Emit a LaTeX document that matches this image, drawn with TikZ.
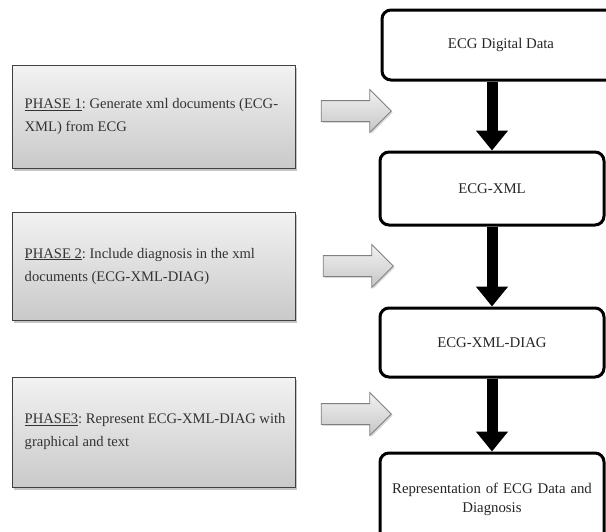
\documentclass[tikz,border=0pt]{standalone}
\usepackage{fontspec}
\setmainfont{Liberation Serif}
\usetikzlibrary{shapes.arrows,shadows,arrows.meta}
\frenchspacing
\begin{document}
\begin{tikzpicture}[x=1pt,y=-1pt,
  phasebox/.style={draw=black!75, line width=1pt, top color=gray!10, bottom color=gray!42,
    drop shadow={shadow xshift=2pt,shadow yshift=-2.5pt,fill=black!45},
    minimum width=283pt, inner sep=0pt},
  phasetext/.style={anchor=west, align=left, inner sep=0pt,
    font=\fontsize{14.6}{23}\selectfont, text=black!80},
  stagebox/.style={draw=black, line width=3pt, rounded corners=9pt, fill=white,
    minimum width=224pt, align=center, font=\fontsize{14.8}{19}\selectfont, text=black!85},
  grayarrow/.style={single arrow, draw=black!50, line width=0.8pt, top color=gray!10, bottom color=gray!45,
    minimum height=70pt, inner xsep=0pt, inner ysep=10pt, single arrow head extend=11pt,
    drop shadow={shadow xshift=1.5pt,shadow yshift=-1.5pt,fill=black!30}},
  flowarrow/.style={line width=11pt, draw=black, -{Triangle[width=31pt,length=20pt]}}
]
\clip (0,0) rectangle (606,531);
\useasboundingbox (0,0) rectangle (606,531);
\fill[white] (0,0) rectangle (606,531);

% phase boxes
\node[phasebox, minimum height=103pt] (p1) at (153.5,116.5) {};
\node[phasetext] (t1) at ([xshift=13pt]p1.west)
  {\underline{PHASE 1}: Generate xml documents (ECG-\\XML) from ECG};
\node[phasebox, minimum height=108pt] (p2) at (153.5,266) {};
\node[phasetext] (t2) at ([xshift=13pt]p2.west)
  {\underline{PHASE 2}: Include diagnosis in the xml\\documents (ECG-XML-DIAG)};
\node[phasebox, minimum height=110pt] (p3) at (153.5,432) {};
\node[phasetext] (t3) at ([xshift=13pt]p3.west)
  {\underline{PHASE3}: Represent ECG-XML-DIAG with\\graphical and text};

% gray arrows
\node[grayarrow] (g1) at (351,111) {};
\node[grayarrow] (g2) at (353,266) {};
\node[grayarrow] (g3) at (351,414) {};

% stage boxes
\node[stagebox, minimum width=238pt, minimum height=70pt] (s1) at (501,45) {ECG Digital Data};
\node[stagebox, minimum height=73pt] (s2) at (492,188.5) {ECG-XML};
\node[stagebox, minimum height=69pt] (s3) at (492,342.5) {ECG-XML-DIAG};
\node[stagebox, minimum height=92pt, text width=212pt] (s4) at (492,499) {Representation of ECG Data and\\Diagnosis};

% flow arrows
\draw[flowarrow] (s2.north |- s1.south) -- (s2.north);
\draw[flowarrow] (s2.south) -- (s3.north);
\draw[flowarrow] (s3.south) -- (s4.north);
\end{tikzpicture}
\end{document}
